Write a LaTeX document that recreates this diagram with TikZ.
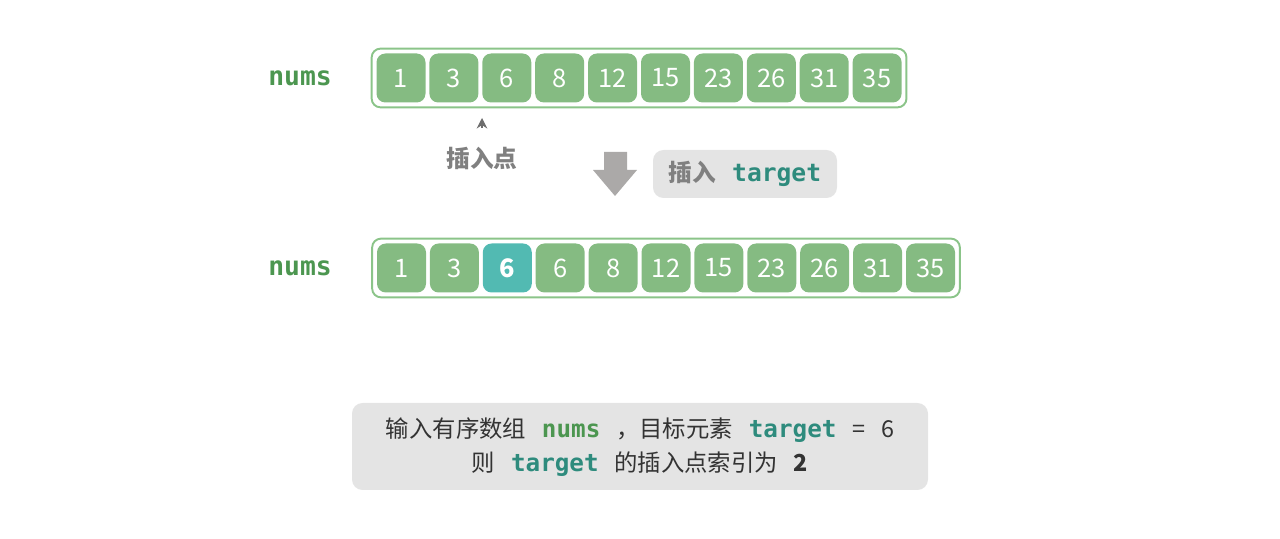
\documentclass[tikz,border=0pt]{standalone}
\usepackage{fontspec}
\setmainfont{Noto Sans CJK SC}
\setmonofont{DejaVu Sans Mono}
\usepackage{xcolor}
\usepackage{tikz}
\usetikzlibrary{arrows.meta, positioning, calc, fit}
\definecolor{numgreen}{RGB}{76,150,80}
\definecolor{cellgreen}{RGB}{133,187,130}
\definecolor{frmgreen}{RGB}{139,196,137}
\definecolor{cellteal}{RGB}{82,186,178}
\definecolor{tgtteal}{RGB}{46,139,125}
\definecolor{txtgray}{RGB}{128,128,128}
\definecolor{arrgray}{RGB}{171,169,168}
\definecolor{boxgray}{RGB}{228,228,228}
\definecolor{txtdark}{RGB}{51,51,51}
\tikzset{
  cell/.style={rectangle, fill=cellgreen, minimum width=0.98cm, minimum height=0.98cm,
    rounded corners=5pt, text=white, inner sep=0pt,
    font=\fontsize{14.5pt}{16pt}\selectfont},
  hlcell/.style={cell, fill=cellteal, font=\fontsize{14.5pt}{16pt}\selectfont\bfseries},
  frame/.style={rectangle, draw=frmgreen, line width=1.1pt, rounded corners=5pt,
    inner sep=0.09cm},
  arrname/.style={font=\fontsize{15pt}{17pt}\selectfont\ttfamily\bfseries, text=numgreen},
  note/.style={rectangle, fill=boxgray, rounded corners=6pt, inner sep=0pt},
  ptr/.style={-{Stealth[length=6pt, width=6pt, inset=2pt]}, line width=0.6pt, color=txtgray!85!black}
}
\newcommand{\tgt}{{\ttfamily\bfseries\color{tgtteal}target}}
\newcommand{\gap}{\hspace{9pt}}
\begin{document}
\begin{tikzpicture}
  \useasboundingbox (0,0) rectangle (25.6,-10.78);

  % original array
  \foreach \v [count=\i from 0] in {1,3,6,8,12,15,23,26,31,35}
    \node[cell] (a\i) at ({8.02+1.058*\i},-1.56) {\v};
  \node[frame, fit=(a0)(a9)] (rowa) {};
  \node[arrname] (numsa) at (6.0,-1.56) {nums};

  % insertion point
  \node[font=\fontsize{13.5pt}{16pt}\selectfont\bfseries, text=txtgray] (ins) at (9.64,-3.16) {插入点};
  \coordinate (insbase) at (9.64,-2.56);
  \draw[ptr] (insbase) -- ++(0,0.2);

  % step arrow
  \fill[arrgray] (12.08,-3.04) -- (12.54,-3.04) -- (12.54,-3.40) -- (12.74,-3.40)
    -- (12.30,-3.92) -- (11.86,-3.40) -- (12.08,-3.40) -- cycle;
  \node[note, minimum width=3.68cm, minimum height=0.96cm,
    font=\fontsize{13.5pt}{16pt}\selectfont\bfseries, text=txtgray] (step) at (14.9,-3.48)
    {插入\gap{}\fontsize{14pt}{16pt}\selectfont\tgt};

  % result array
  \foreach \v [count=\i from 0] in {1,3,6,6,8,12,15,23,26,31,35} {
    \ifnum\i=2
      \node[hlcell] (b\i) at ({8.03+1.058*\i},-5.36) {\v};
    \else
      \node[cell] (b\i) at ({8.03+1.058*\i},-5.36) {\v};
    \fi
  }
  \node[frame, fit=(b0)(b10)] (rowb) {};
  \node[arrname] (numsb) at (6.0,-5.36) {nums};

  % summary
  \node[note, minimum width=11.52cm, minimum height=1.74cm] (sum) at (12.8,-8.93) {};
  \node[font=\fontsize{13.3pt}{16pt}\selectfont, text=txtdark] (l1) at (12.8,-8.6)
    {输入有序数组\gap{}{\fontsize{13.8pt}{16pt}\selectfont\ttfamily\bfseries\color{numgreen}nums}\gap{}，目标元素\gap{}{\fontsize{13.8pt}{16pt}\selectfont\tgt}\gap{}=\gap{}6};
  \node[font=\fontsize{13.3pt}{16pt}\selectfont, text=txtdark] (l2) at (12.8,-9.28)
    {则\gap{}{\fontsize{13.8pt}{16pt}\selectfont\tgt}\gap{}的插入点索引为\gap{}\textbf{2}};
\end{tikzpicture}
\end{document}
